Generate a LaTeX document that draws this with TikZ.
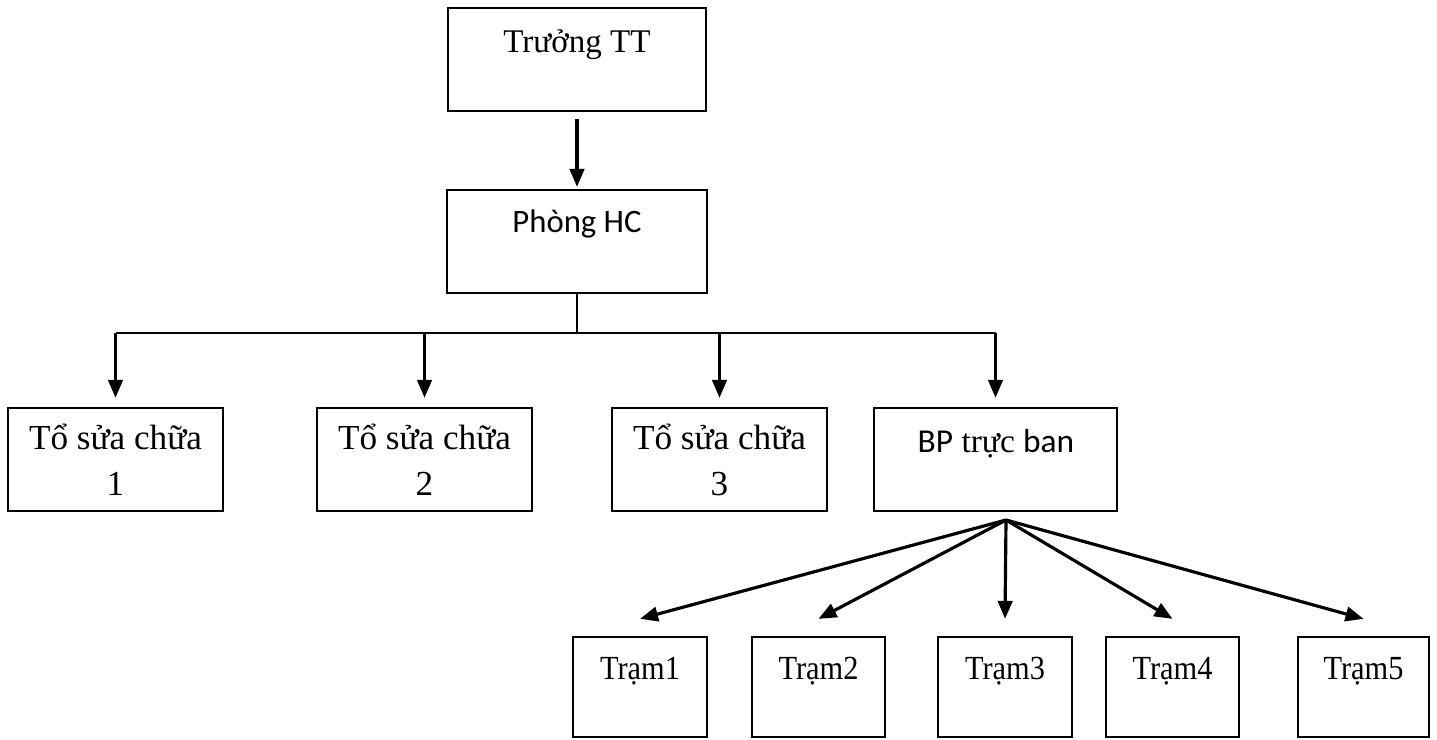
\documentclass[tikz,border=0pt]{standalone}
\usepackage{fontspec}
\setmainfont{Liberation Serif}
\newfontfamily\carlito{Carlito}
\usetikzlibrary{arrows.meta,calc}
\begin{document}
\begin{tikzpicture}[x=0.01cm,y=-0.01cm,
  lbl/.style={anchor=base,inner sep=0pt},
  boxs/.style={draw,line width=0.65pt,inner sep=0pt},
  conn/.style={line width=0.9pt},
  thinconn/.style={line width=0.65pt},
  arr/.style={conn,-{Triangle[length=0.18cm,width=0.145cm]}}]
\useasboundingbox (0,0) rectangle (1437,740);
% boxes
\node[boxs,minimum width=2.58cm,minimum height=1.03cm] (T) at (577,59.5) {};
\node[boxs,minimum width=2.60cm,minimum height=1.03cm] (P) at (577,241.5) {};
\node[boxs,minimum width=2.15cm,minimum height=1.03cm] (S1) at (115.5,459.5) {};
\node[boxs,minimum width=2.15cm,minimum height=1.03cm] (S2) at (424.5,459.5) {};
\node[boxs,minimum width=2.15cm,minimum height=1.03cm] (S3) at (719.5,459.5) {};
\node[boxs,minimum width=2.43cm,minimum height=1.03cm] (BP) at (995.5,459.5) {};
\node[boxs,minimum width=1.34cm,minimum height=1.00cm] (R1) at (640,687) {};
\node[boxs,minimum width=1.33cm,minimum height=1.00cm] (R2) at (818.5,687) {};
\node[boxs,minimum width=1.34cm,minimum height=1.00cm] (R3) at (1005,687) {};
\node[boxs,minimum width=1.33cm,minimum height=1.00cm] (R4) at (1172.5,687) {};
\node[boxs,minimum width=1.31cm,minimum height=1.00cm] (R5) at (1363.5,687) {};
% texts
\node[lbl,font=\fontsize{9.4pt}{11pt}\selectfont] (tT) at (577,53) {Trưởng TT};
\node[lbl,font=\carlito\fontsize{9.3pt}{11pt}\selectfont] (tP) at (577,233) {Phòng HC};
\foreach \i/\n in {1/S1,2/S2,3/S3}{
  \node[lbl,font=\fontsize{10pt}{12pt}\selectfont] (t\n a) at ($(\n.north)+(0,43)$) {Tổ sửa chữa};
  \node[lbl,font=\fontsize{10pt}{12pt}\selectfont] (t\n b) at ($(\n.north)+(0,89)$) {\i};
}
\node[lbl,font=\fontsize{9.5pt}{11pt}\selectfont] (tBP) at (996,452) {{\carlito BP} trực {\carlito ban}};
\foreach \i in {1,...,5}{
  \node[lbl,font=\fontsize{9.6pt}{11pt}\selectfont] (tR\i) at ($(R\i.north)+(0,44)$) {\scalebox{0.9}[1]{Trạm\i}};
}
% connectors
\draw[arr,shorten <=0.07cm,shorten >=0.02cm] (T.south) -- (P.north);
\coordinate (J) at ($(P.south)+(0,39)$);
\draw[thinconn] (P.south) -- (J);
\coordinate (H1) at (S1.north |- J);
\coordinate (H2) at (S2.north |- J);
\coordinate (H3) at (S3.north |- J);
\coordinate (H4) at (BP.north |- J);
\draw[thinconn] (H1) -- (H4);
\foreach \n/\h in {S1/H1,S2/H2,S3/H3,BP/H4}{
  \draw[arr,shorten >=0.09cm] (\h) -- (\n.north);
}
\coordinate (C) at (1006,520);
\foreach \i in {1,...,5}{
  \coordinate (A\i) at ($(R\i.north)+(0,-17)$);
  \draw[arr] (C) -- (A\i);
}
\end{tikzpicture}
\end{document}
